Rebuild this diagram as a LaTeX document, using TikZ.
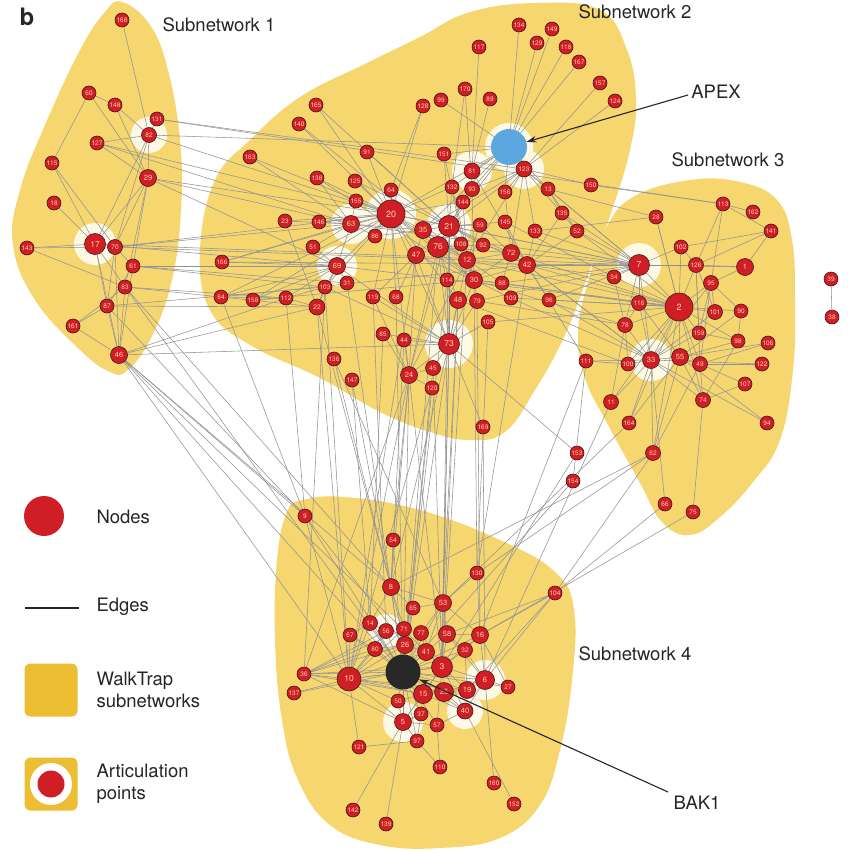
\documentclass[tikz,border=0pt]{standalone}
\usepackage{fontspec}
\setmainfont{TeX Gyre Heros}
\usetikzlibrary{arrows.meta, backgrounds}
\definecolor{nodered}{RGB}{208,30,38}
\definecolor{nodeline}{RGB}{70,20,20}
\definecolor{numcol}{RGB}{250,214,168}
\definecolor{blobcol}{RGB}{246,214,110}
\definecolor{walkcol}{RGB}{237,189,51}
\definecolor{halocol}{RGB}{253,249,228}
\definecolor{edgecol}{RGB}{146,146,150}
\definecolor{apexblue}{RGB}{92,168,222}
\definecolor{bakblack}{RGB}{40,40,40}
\pgfdeclarelayer{blobs}
\pgfdeclarelayer{edges}
\pgfsetlayers{blobs,edges,main}

\begin{document}
\begin{tikzpicture}[x=1pt, y=-1pt]
	\tikzstyle{nd}=[circle, draw=nodeline, fill=nodered, line width=0.6pt,
	inner sep=0pt, minimum size=14pt, text=numcol, font=\fontsize{6.5}{6.5}\selectfont]
	\tikzstyle{ndm}=[nd, minimum size=17pt, font=\fontsize{7.5}{7.5}\selectfont]
	\tikzstyle{ndl}=[nd, minimum size=21pt, font=\fontsize{8.5}{8.5}\selectfont]
	\tikzstyle{ndxl}=[nd, minimum size=28pt, font=\fontsize{9}{9}\selectfont]
	\tikzstyle{edge}=[edgecol, line width=0.55pt]
	\tikzstyle{blob}=[fill=blobcol, smooth cycle, tension=0.7]
	\tikzstyle{label}=[font=\fontsize{18.5}{22}\selectfont, text=black!85]
	\tikzstyle{legtext}=[label, anchor=west, align=left]
	\tikzstyle{pointer}=[black!85, line width=1.1pt, -{Stealth[length=10pt, width=6.5pt]}]

	\useasboundingbox (0,0) rectangle (847,851);

	% subnetwork 1
	\node[nd] at (122,20) (n168) {168};
	\node[nd] at (89,93) (n60) {60};
	\node[nd] at (115,105) (n148) {148};
	\node[nd] at (157,119) (n131) {131};
	\node[nd, minimum size=15pt] at (149,135) (n82) {82};
	\node[nd] at (97,143) (n127) {127};
	\node[nd] at (52,163) (n115) {115};
	\node[ndm] at (148,178) (n29) {29};
	\node[nd] at (54,203) (n18) {18};
	\node[ndl] at (95,244) (n17) {17};
	\node[nd, minimum size=15pt] at (115,247) (n70) {70};
	\node[nd] at (27,248) (n143) {143};
	\node[nd] at (133,266) (n61) {61};
	\node[nd] at (125,287) (n83) {83};
	\node[nd] at (107,306) (n87) {87};
	\node[nd] at (73,326) (n161) {161};
	\node[ndm] at (119,355) (n46) {46};

	% subnetwork 2
	\node[nd] at (316,105) (n165) {165};
	\node[nd] at (299,124) (n140) {140};
	\node[nd] at (250,157) (n163) {163};
	\node[nd] at (367,152) (n91) {91};
	\node[nd] at (317,178) (n138) {138};
	\node[nd] at (355,181) (n125) {125};
	\node[nd] at (391,190) (n64) {64};
	\node[nd] at (356,201) (n155) {155};
	\node[ndxl] at (391,214) (n20) {20};
	\node[ndm] at (351,224) (n63) {63};
	\node[nd] at (375,236) (n86) {86};
	\node[ndm] at (423,230) (n35) {35};
	\node[ndl] at (449,226) (n21) {21};
	\node[ndl] at (438,247) (n76) {76};
	\node[ndm] at (416,255) (n47) {47};
	\node[nd] at (461,244) (n108) {108};
	\node[ndm] at (467,260) (n12) {12};
	\node[nd] at (480,225) (n59) {59};
	\node[nd] at (483,245) (n92) {92};
	\node[nd] at (505,222) (n145) {145};
	\node[ndm] at (511,253) (n72) {72};
	\node[ndm] at (527,265) (n42) {42};
	\node[nd] at (535,231) (n133) {133};
	\node[ndm] at (474,280) (n30) {30};
	\node[nd] at (447,280) (n114) {114};
	\node[nd] at (502,283) (n88) {88};
	\node[nd] at (511,298) (n109) {109};
	\node[ndm] at (458,300) (n48) {48};
	\node[nd, minimum size=15pt] at (477,301) (n79) {79};
	\node[nd] at (549,300) (n96) {96};
	\node[nd] at (373,297) (n119) {119};
	\node[nd] at (396,297) (n68) {68};
	\node[ndm] at (337,266) (n69) {69};
	\node[nd] at (347,283) (n31) {31};
	\node[nd] at (325,287) (n103) {103};
	\node[nd] at (444,154) (n151) {151};
	\node[nd, minimum size=16pt] at (472,171) (n81) {81};
	\node[nd, minimum size=15pt] at (472,189) (n93) {93};
	\node[nd] at (452,187) (n132) {132};
	\node[nd] at (463,202) (n144) {144};
	\node[nd] at (505,192) (n156) {156};
	\node[nd] at (548,189) (n13) {13};
	\node[nd, minimum size=16pt] at (524,169) (n123) {123};
	\node[circle, fill=apexblue, inner sep=0pt, minimum size=36pt] at (509,147) (nAPEX) {};
	\node[nd] at (519,25) (n134) {134};
	\node[nd] at (552,29) (n149) {149};
	\node[nd] at (479,47) (n117) {117};
	\node[nd] at (537,43) (n129) {129};
	\node[nd] at (566,47) (n118) {118};
	\node[nd] at (579,62) (n167) {167};
	\node[nd] at (600,83) (n157) {157};
	\node[nd] at (615,101) (n124) {124};
	\node[nd] at (465,89) (n170) {170};
	\node[nd] at (441,100) (n99) {99};
	\node[nd] at (423,106) (n128) {128};
	\node[nd] at (490,99) (n89) {89};
	\node[nd] at (591,185) (n150) {150};
	\node[nd] at (562,213) (n135) {135};
	\node[nd] at (577,231) (n52) {52};
	\node[nd] at (285,221) (n23) {23};
	\node[nd] at (319,222) (n146) {146};
	\node[nd] at (313,247) (n51) {51};
	\node[nd] at (222,262) (n166) {166};
	\node[nd] at (221,297) (n84) {84};
	\node[nd] at (253,300) (n158) {158};
	\node[nd] at (286,298) (n112) {112};
	\node[nd, minimum size=16pt] at (317,307) (n22) {22};
	\node[nd] at (383,334) (n85) {85};
	\node[nd] at (404,340) (n44) {44};
	\node[ndl] at (449,344) (n73) {73};
	\node[ndm] at (409,375) (n24) {24};
	\node[nd, minimum size=15pt] at (433,368) (n45) {45};
	\node[nd] at (432,388) (n120) {120};
	\node[nd] at (488,322) (n105) {105};
	\node[nd] at (483,427) (n169) {169};
	\node[nd] at (334,359) (n136) {136};
	\node[nd] at (352,380) (n147) {147};

	% subnetwork 3
	\node[nd] at (586,361) (n111) {111};
	\node[nd] at (656,217) (n28) {28};
	\node[nd] at (681,247) (n102) {102};
	\node[ndl] at (639,265) (n7) {7};
	\node[nd] at (614,277) (n34) {34};
	\node[nd, minimum size=15pt] at (696,265) (n126) {126};
	\node[ndm] at (745,267) (n1) {1};
	\node[nd, minimum size=15pt] at (711,283) (n95) {95};
	\node[nd] at (723,204) (n113) {113};
	\node[nd] at (753,212) (n162) {162};
	\node[nd] at (771,231) (n141) {141};
	\node[nd, minimum size=15pt] at (639,303) (n116) {116};
	\node[ndxl] at (679,307) (n2) {2};
	\node[nd, minimum size=15pt] at (715,312) (n101) {101};
	\node[nd] at (741,311) (n90) {90};
	\node[nd, minimum size=15pt] at (625,325) (n78) {78};
	\node[nd] at (699,333) (n159) {159};
	\node[nd] at (738,341) (n98) {98};
	\node[nd] at (768,343) (n106) {106};
	\node[ndm] at (651,360) (n33) {33};
	\node[ndm] at (680,357) (n55) {55};
	\node[nd] at (628,364) (n100) {100};
	\node[nd, minimum size=15pt] at (700,364) (n49) {49};
	\node[nd] at (762,364) (n122) {122};
	\node[nd] at (745,384) (n107) {107};
	\node[nd, minimum size=15pt] at (703,400) (n74) {74};
	\node[nd, minimum size=15pt] at (611,402) (n11) {11};
	\node[nd] at (629,423) (n164) {164};
	\node[nd] at (767,423) (n94) {94};
	\node[nd, minimum size=15pt] at (653,453) (n62) {62};
	\node[nd] at (665,504) (n66) {66};
	\node[nd] at (693,512) (n75) {75};
	\node[nd] at (831,279) (n39) {39};
	\node[nd] at (832,317) (n38) {38};
	\node[nd] at (577,453) (n153) {153};
	\node[nd] at (573,481) (n154) {154};

	% subnetwork 4
	\node[nd] at (305,516) (n9) {9};
	\node[nd] at (393,540) (n54) {54};
	\node[ndm] at (391,587) (n8) {8};
	\node[nd] at (413,608) (n65) {65};
	\node[nd, minimum size=15pt] at (370,623) (n14) {14};
	\node[nd] at (350,635) (n67) {67};
	\node[nd, minimum size=15pt] at (386,631) (n56) {56};
	\node[nd, minimum size=15pt] at (404,629) (n71) {71};
	\node[nd, minimum size=15pt] at (375,649) (n80) {80};
	\node[ndm] at (405,645) (n26) {26};
	\node[nd] at (477,573) (n130) {130};
	\node[nd] at (555,593) (n104) {104};
	\node[ndm] at (443,603) (n53) {53};
	\node[nd, minimum size=15pt] at (421,633) (n77) {77};
	\node[ndm] at (447,634) (n58) {58};
	\node[ndm] at (480,635) (n16) {16};
	\node[ndm] at (426,652) (n41) {41};
	\node[nd, minimum size=15pt] at (465,650) (n32) {32};
	\node[ndl] at (442,667) (n3) {3};
	\node[nd] at (304,674) (n36) {36};
	\node[ndl, minimum size=24pt] at (349,679) (n10) {10};
	\node[nd] at (294,693) (n137) {137};
	\node[circle, fill=bakblack, inner sep=0pt, minimum size=35pt] at (403,672) (nBAK) {};
	\node[ndm, minimum size=19pt] at (485,680) (n6) {6};
	\node[nd] at (508,687) (n27) {27};
	\node[ndm] at (467,690) (n19) {19};
	\node[ndm, minimum size=19pt] at (444,692) (n25) {25};
	\node[ndm, minimum size=19pt] at (423,694) (n15) {15};
	\node[nd] at (398,701) (n50) {50};
	\node[nd] at (421,714) (n37) {37};
	\node[ndm, minimum size=16pt] at (465,711) (n40) {40};
	\node[ndm] at (403,722) (n5) {5};
	\node[nd] at (437,725) (n57) {57};
	\node[nd] at (417,741) (n97) {97};
	\node[nd] at (359,747) (n121) {121};
	\node[nd] at (440,767) (n110) {110};
	\node[nd] at (494,783) (n160) {160};
	\node[nd] at (514,804) (n152) {152};
	\node[nd] at (353,810) (n142) {142};
	\node[nd] at (386,824) (n139) {139};

	% titles and pointers
	\node[font=\fontsize{24}{24}\selectfont\bfseries, text=black!85] at (27,17) (title) {b};
	\node[label] at (219,25) (sub1) {Subnetwork 1};
	\node[label] at (635,12) (sub2) {Subnetwork 2};
	\node[label] at (728,160) (sub3) {Subnetwork 3};
	\node[label] at (635,654) (sub4) {Subnetwork 4};
	\node[label] at (716,92) (apexlbl) {APEX};
	\node[label] at (697,803) (baklbl) {BAK1};
	\coordinate (apexfrom) at (688,95);
	\coordinate (bakfrom) at (668,792);
	\draw[pointer] (apexfrom) -- (nAPEX);
	\draw[pointer] (bakfrom) -- (nBAK);

	% legend
	\node[circle, fill=nodered, inner sep=0pt, minimum size=40pt] at (44,516) (legnode) {};
	\node[legtext] at (93,517) (legnodetxt) {Nodes};
	\coordinate (legedgea) at (25,608);
	\coordinate (legedgeb) at (79,608);
	\draw[black!85, line width=1.3pt] (legedgea) -- (legedgeb);
	\node[legtext] at (93,607) (legedgetxt) {Edges};
	\node[rectangle, rounded corners=6pt, fill=walkcol, minimum size=53pt] at (51,690) (legwalk) {};
	\node[legtext] at (93,690) (legwalktxt) {WalkTrap\\subnetworks};
	\node[rectangle, rounded corners=6pt, fill=walkcol, minimum size=53pt] at (51,784) (legart) {};
	\node[circle, fill=white, inner sep=0pt, minimum size=42pt] at (legart) (legring) {};
	\node[circle, fill=nodered, inner sep=0pt, minimum size=27pt] at (legart) (legdot) {};
	\node[legtext] at (93,784) (legarttxt) {Articulation\\points};

	\begin{pgfonlayer}{blobs}
		\fill[blob] plot coordinates {(122,2) (150,25) (168,70) (180,140) (181,210) (172,280)
			(152,336) (128,370) (110,372) (80,350) (35,300) (13,245) (20,190) (45,125) (80,50) (105,12)};
		\fill[blob] plot coordinates {(200,250) (215,180) (250,140) (300,97) (367,63) (420,37)
			(470,12) (537,3) (600,10) (627,50) (636,100) (630,150) (612,210) (590,270) (565,335)
			(535,390) (505,432) (470,440) (430,432) (380,412) (320,378) (250,345) (210,310)};
		\fill[blob] plot coordinates {(633,197) (690,180) (740,182) (777,200) (792,240) (795,300)
			(793,370) (780,440) (753,482) (720,517) (690,535) (662,522) (640,483) (607,423)
			(585,378) (578,330) (590,275) (605,230)};
		\fill[blob] plot coordinates {(303,500) (345,497) (420,510) (500,540) (555,572) (574,610)
			(572,680) (560,750) (540,805) (500,838) (440,848) (380,845) (330,825) (298,780)
			(282,720) (275,640) (277,560) (287,512)};
		\fill[halocol] (n82) circle (18) (n17) circle (21) (nAPEX) circle (24) (n123) circle (20)
			(n81) circle (20) (n20) circle (25) (n63) circle (20) (n69) circle (20) (n21) circle (22)
			(n73) circle (24) (n7) circle (22) (n33) circle (21) (n56) circle (17) (n5) circle (20)
			(n6) circle (20) (n40) circle (18);
	\end{pgfonlayer}

	\begin{pgfonlayer}{edges}
		\foreach \a/\b in {168/82, 60/115, 60/29, 148/82, 148/29, 131/82, 127/82, 127/29, 115/17,
			115/70, 18/17, 17/29, 17/82, 70/29, 70/82, 143/17, 143/83, 17/87, 17/83, 17/46, 70/87,
			70/46, 61/29, 61/46, 83/29, 83/46, 87/161, 161/46, 87/46, 87/61, 70/61, 82/29, 161/83,
			60/148, 131/123, 131/113, 82/APEX, 82/20, 127/63, 127/20, 29/20, 29/63, 29/69, 17/69,
			17/7, 70/20, 70/63, 70/12, 61/69, 61/103, 61/31, 83/22, 83/112, 87/103, 87/22, 46/22,
			46/73, 46/112, 83/8, 87/9, 46/9, 46/8, 46/3, 46/BAK, 46/10, 83/BAK, 143/70}
			\draw[edge] (n\a) -- (n\b);
		\foreach \a/\b in {APEX/134, APEX/149, APEX/129, APEX/118, APEX/167, 157/123, 124/123,
			117/81, 170/93, 99/APEX, 89/81, 128/20, 128/64, APEX/151, APEX/81, APEX/93, APEX/123,
			APEX/156, APEX/20, APEX/132, APEX/21, APEX/13, APEX/35, 123/150, 123/13, 123/156,
			123/72, 123/93, 123/35, 123/21, 123/7, 123/52, 123/133, 123/12, 20/64, 20/125, 20/155,
			20/91, 20/138, 20/140, 20/165, 20/163, 20/63, 20/86, 20/35, 20/21, 20/76, 20/47, 20/23,
			20/146, 20/69, 20/103, 20/73, 20/24, 20/12, 20/30, 20/48, 20/166, 20/84, 20/158,
			20/119, 20/68, 20/144, 20/132, 63/155, 63/146, 63/23, 63/51, 63/69, 63/86, 63/163,
			63/138, 63/166, 63/35, 69/51, 69/31, 69/103, 69/112, 69/158, 69/84, 69/166, 69/22,
			69/73, 21/144, 21/59, 21/108, 21/92, 21/12, 21/76, 21/35, 21/47, 21/72, 21/42, 21/30,
			21/73, 21/24, 21/93, 21/132, 21/151, 21/145}
			\draw[edge] (n\a) -- (n\b);
		\foreach \a/\b in {76/47, 76/35, 76/12, 76/30, 76/114, 76/48, 76/73, 76/24, 76/108,
			76/72, 76/92, 73/30, 73/48, 73/79, 73/12, 73/47, 73/24, 73/45, 73/44, 73/85, 73/119,
			73/105, 73/169, 73/114, 73/103, 12/30, 12/42, 12/72, 12/88, 12/59, 30/88, 30/79,
			30/109, 30/42, 30/72, 42/72, 42/133, 42/145, 42/96, 42/52, 42/135, 42/7, 42/2, 72/92,
			72/59, 72/7, 72/88, 72/2, 24/44, 24/45, 24/85, 24/119, 24/47, 24/12, 24/120, 47/68,
			47/119, 47/30, 22/103, 22/112, 22/23, 112/84, 112/158, 112/103, 166/7, 84/42, 158/30,
			35/12, 35/86, 35/47, 13/135, 13/7, 96/2, 96/7, 109/2, 88/7, 79/7, 105/2, 133/7, 52/7,
			135/7, 52/2, 145/34, 13/52, 156/72, 125/21, 91/21, 64/21, 138/30, 140/12, 165/21,
			151/12, 132/30, 144/12, 93/30, 81/42, 170/132}
			\draw[edge] (n\a) -- (n\b);
		\foreach \a/\b in {20/7, 21/7, 63/7, 69/2, 12/2, 30/2, 42/33, 72/33, 96/33, 109/33,
			88/116, 79/78, 30/78, 48/100, 42/34, 133/28, 13/28, 150/113, 111/42, 73/BAK, 73/3,
			73/53, 73/8, 24/10, 24/3, 24/BAK, 24/8, 24/54, 24/36, 120/BAK, 120/10, 45/BAK, 45/3,
			44/8, 85/14, 136/53, 136/8, 147/8, 147/14, 22/8, 22/10, 119/56, 68/BAK, 114/BAK, 48/53,
			48/3, 79/16, 105/130, 169/6, 30/130, 12/3, 112/9, 84/9, 103/10, 31/BAK, 103/36,
			76/BAK, 47/10, 21/3}
			\draw[edge] (n\a) -- (n\b);
		\foreach \a/\b in {2/7, 2/116, 2/78, 2/33, 2/55, 2/49, 2/159, 2/101, 2/95, 2/126, 2/28,
			2/102, 2/34, 2/100, 2/90, 2/98, 2/74, 2/11, 2/62, 2/164, 7/34, 7/102, 7/126, 7/116,
			7/33, 7/1, 7/78, 113/162, 113/141, 113/95, 113/126, 141/102, 141/1, 141/126, 1/95,
			1/126, 95/101, 95/159, 95/90, 95/49, 95/33, 126/101, 126/102, 126/159, 126/49, 90/98,
			90/55, 98/159, 98/74, 98/55, 106/55, 106/49, 122/33, 122/49, 107/49, 107/74, 74/49,
			74/55, 74/33, 94/33, 94/55, 62/55, 62/33, 62/49, 66/33, 75/74, 164/55, 164/33, 11/33,
			100/33, 111/33, 111/100, 116/33, 78/33, 78/100, 78/116, 33/55, 55/49, 159/33, 101/33,
			11/78, 39/38, 28/2, 34/78, 116/55, 66/104, 75/16, 62/130, 62/8, 164/53, 11/6, 62/104,
			111/16, 153/73, 153/3, 154/111, 154/BAK, 104/16, 104/6, 104/19, 104/58, 130/53, 130/16,
			130/42, 9/BAK, 9/10, 9/26}
			\draw[edge] (n\a) -- (n\b);
		\foreach \a/\b in {BAK/10, BAK/36, BAK/3, BAK/15, BAK/25, BAK/26, BAK/41, BAK/71, BAK/56,
			BAK/80, BAK/14, BAK/50, BAK/5, BAK/37, BAK/57, BAK/19, BAK/6, BAK/27, BAK/40, BAK/32,
			BAK/16, BAK/58, BAK/77, BAK/53, BAK/65, BAK/8, BAK/67, BAK/137, BAK/97, BAK/54, 10/36,
			10/137, 10/121, 10/26, 10/80, 10/14, 10/56, 10/3, 10/15, 10/5, 10/50, 10/19, 10/25,
			10/67, 10/71, 10/41, 36/3, 36/26, 36/15, 36/56, 36/71, 36/80, 36/5, 3/41, 3/25, 3/15,
			3/58, 3/32, 3/16, 3/19, 3/6, 3/53, 3/77, 3/5, 3/40, 3/57, 6/27, 6/160, 6/16, 6/19,
			6/40, 6/32, 6/25, 6/58, 5/142, 5/139, 5/97, 5/50, 5/37, 5/15, 5/57, 40/152, 40/57,
			40/19, 40/25, 40/15, 97/110, 57/110, 97/121, 37/97, 8/54, 8/53, 8/14, 8/65, 8/71,
			8/26, 53/65, 53/58, 53/77, 53/41, 53/16, 14/67, 14/56, 67/80, 80/26, 71/26, 71/77,
			41/77, 41/26, 32/58, 32/16, 32/19, 16/27, 16/58, 19/25, 25/15, 15/50, 15/37}
			\draw[edge] (n\a) -- (n\b);
	\end{pgfonlayer}
\end{tikzpicture}
\end{document}
